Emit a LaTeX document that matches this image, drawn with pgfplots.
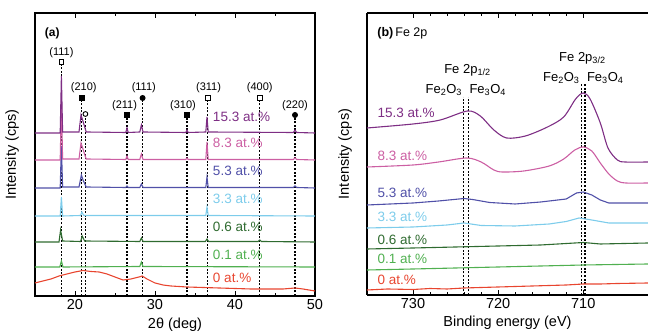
\documentclass[border=0pt]{standalone}
\usepackage{fontspec}
\setmainfont{Liberation Sans}
\usepackage{pgfplots}
\pgfplotsset{compat=1.18}
\definecolor{cA}{HTML}{7E2E84}
\definecolor{cB}{HTML}{CC5FA3}
\definecolor{cC}{HTML}{5050A8}
\definecolor{cD}{HTML}{7DCCEB}
\definecolor{cE}{HTML}{2F6B30}
\definecolor{cF}{HTML}{50B050}
\definecolor{cG}{HTML}{E8452F}
\pgfplotsset{
  common/.style={
    scale only axis, ymin=0, ytick=\empty,
    axis line style={line width=1.1pt},
    tick style={black, line width=0.8pt},
    major tick length=5pt, minor tick length=3pt,
    /pgf/number format/assume math mode=true,
    tick label style={font=\fontsize{14.5}{16}\selectfont},
    every axis plot/.append style={line width=1.1pt},
  },
}
\tikzset{
  vl/.style={black, line width=1.2pt, dash pattern=on 2pt off 1.6pt},
  lab/.style={font=\fontsize{13.5}{15}\selectfont, anchor=west, inner sep=1pt},
  hkl/.style={font=\fontsize{11}{13}\selectfont},
  ann/.style={font=\fontsize{13}{15}\selectfont, inner sep=1pt},
}
\begin{document}
\begin{tikzpicture}[x=1pt,y=1pt]
\path[use as bounding box] (0,0) rectangle (648,336);
\begin{axis}[common, at={(35pt,40pt)}, anchor=south west,
  width=280pt, height=283pt, xmin=15, xmax=50, ymax=283,
  xtick={20,30,40,50}, minor xtick={15,25,35,45},
  xlabel={2θ (deg)}, ylabel={Intensity (cps)},
  ylabel style={at={(axis description cs:-0.082,0.5)}, anchor=center, font=\fontsize{14.5}{16}\selectfont},
  xlabel style={at={(axis description cs:0.5,-0.1)}, anchor=center, font=\fontsize{14.5}{16}\selectfont},
  clip=false]
% vertical reference lines
\addplot[vl] coordinates {(18.3,0) (18.3,232)};
\addplot[vl] coordinates {(20.85,0) (20.85,196)};
\addplot[vl] coordinates {(21.3,0) (21.3,180)};
\addplot[vl] coordinates {(26.5,0) (26.5,179)};
\addplot[vl] coordinates {(28.45,0) (28.45,196)};
\addplot[vl] coordinates {(34.0,0) (34.0,179)};
\addplot[vl] coordinates {(36.6,0) (36.6,196)};
\addplot[vl] coordinates {(43.1,0) (43.1,196)};
\addplot[vl] coordinates {(47.5,0) (47.5,179)};
% markers
\addplot[only marks, mark=square, mark size=2.4pt, mark options={fill=white, line width=0.9pt}] coordinates {(18.3,234) (36.6,198) (43.1,198)};
\addplot[only marks, mark=square*, mark size=2.4pt, mark options={fill=black}] coordinates {(20.85,198) (26.5,181) (34.0,181)};
\addplot[only marks, mark=*, mark size=2.4pt, mark options={fill=black}] coordinates {(28.45,198) (47.5,181)};
\addplot[only marks, mark=o, mark size=2.4pt, mark options={fill=white, line width=0.9pt}] coordinates {(21.3,182)};
% curves
\addplot[cG] coordinates {(15,13)(16,15)(17,17)(18,20)(19,22)(20,24)(21,25.5)(22,24.5)(23,24)(24,22)(25,19)(26,16)(27,17)(28,19)(28.4,20)(29,17)(30,13)(31,11)(32,10)(34,9)(36,8.5)(38,8)(40,7.5)(42,7)(44,7)(46,7)(47.5,8)(48.5,7)(50,5)};
\addplot[cF] coordinates {(15,29)(18.1,29)(18.3,35)(18.5,29)(28.1,29.5)(28.3,34)(28.5,29.5)(50,29)};
\addplot[cE] coordinates {(15,54)(18.0,54)(18.2,66)(18.45,55)(20.7,54.5)(20.9,60)(21.2,55)(28.1,54.5)(28.3,58)(28.5,54.5)(36.3,54.5)(36.5,57)(36.7,54.5)(42.9,54.5)(43.1,56)(43.3,54.5)(50,54)};
\addplot[cD] coordinates {(15,80)(18.15,80)(18.3,99)(18.45,80)(20.7,80.5)(20.85,84)(21.1,80.5)(36.35,80.5)(36.5,89)(36.65,80.5)(50,80)};
\addplot[cC] coordinates {(15,108)(18.15,108)(18.3,150)(18.45,109)(20.5,109)(20.8,121)(21.0,116)(21.4,109)(26.35,108.5)(26.5,110)(26.65,108.5)(28.1,108.5)(28.3,112)(28.5,108.5)(36.35,108.5)(36.5,119)(36.65,108.5)(47.3,108.5)(47.5,110)(47.7,108.5)(50,108)};
\addplot[cB] coordinates {(15,136)(18.15,136)(18.3,195)(18.45,137)(20.5,137)(20.75,153)(20.95,148)(21.4,137)(26.35,136.5)(26.5,140)(26.65,136.5)(28.1,136.5)(28.3,142)(28.5,136.5)(33.85,136.5)(34.0,138)(34.15,136.5)(36.35,136.5)(36.5,154)(36.65,136.5)(47.3,136.5)(47.5,138)(47.7,136.5)(50,136)};
\addplot[cA] coordinates {(15,163)(18.15,163)(18.3,220)(18.45,164)(20.5,164)(20.75,181)(20.95,176)(21.4,164)(26.35,163.5)(26.5,168)(26.65,163.5)(28.1,164)(28.3,171)(28.5,164)(33.85,163.5)(34.0,166)(34.15,163.5)(36.35,164)(36.5,179)(36.65,164)(47.3,163.5)(47.5,166)(47.7,163.5)(50,163)};
% labels
\node[lab, text=cA] at (axis cs:37.1,179) {15.3 at.\%};
\node[lab, text=cB] at (axis cs:37.1,153) {8.3 at.\%};
\node[lab, text=cC] at (axis cs:37.1,125) {5.3 at.\%};
\node[lab, text=cD] at (axis cs:37.1,97) {3.3 at.\%};
\node[lab, text=cE] at (axis cs:37.1,69) {0.6 at.\%};
\node[lab, text=cF] at (axis cs:37.1,41) {0.1 at.\%};
\node[lab, text=cG] at (axis cs:37.1,18) {0 at.\%};
\node[hkl] at (axis cs:18.3,243) {(111)};
\node[hkl] at (axis cs:21.1,208) {(210)};
\node[hkl] at (axis cs:26.2,190) {(211)};
\node[hkl] at (axis cs:28.6,208) {(111)};
\node[hkl] at (axis cs:33.5,190) {(310)};
\node[hkl] at (axis cs:36.7,208) {(311)};
\node[hkl] at (axis cs:43.1,208) {(400)};
\node[hkl] at (axis cs:47.5,190) {(220)};
\node[font=\bfseries\fontsize{12}{14}\selectfont, anchor=west] at (axis cs:15.8,263) {(a)};
\end{axis}

\begin{axis}[common, at={(367pt,41pt)}, anchor=south west,
  width=281pt, height=282pt, xmin=702.4, xmax=735.4, ymax=282,
  x dir=reverse,
  axis x line=box, axis y line=left,
  axis line style={line width=1.1pt, -},
  xtick={710,720,730}, minor tick num=4,
  xlabel={Binding energy (eV)}, ylabel={Intensity (cps)},
  ylabel style={at={(axis description cs:-0.078,0.5)}, anchor=center, font=\fontsize{14.5}{16}\selectfont},
  xlabel style={at={(axis description cs:0.5,-0.1)}, anchor=center, font=\fontsize{14.5}{16}\selectfont},
  clip=false]
\addplot[vl] coordinates {(724.1,0) (724.1,198)};
\addplot[vl] coordinates {(723.5,0) (723.5,198)};
\addplot[vl] coordinates {(710.2,0) (710.2,211)};
\addplot[vl] coordinates {(709.8,0) (709.8,211)};
\addplot[cG] coordinates {(735.4,5)(733,6)(730,5.5)(728,6.5)(726,6)(724,7)(722,7.5)(720,8)(718,8.5)(716,9)(714,9.5)(712,10)(710,11)(708,11)(706,11.5)(702.4,12)};
\addplot[cF] coordinates {(735.4,25)(730,26)(725,27)(720,28)(715,29)(710,30)(702.4,31)};
\addplot[cE] coordinates {(735.4,46)(730,47)(725,48)(720,49)(715,50)(711,52)(710,52.5)(708,51)(702.4,52)};
\addplot[cD] coordinates {(735.4,67)(730,68)(726,70)(724,72)(722,69.5)(718,69)(714,71)(712,73.5)(710.5,77)(709,75)(707,72)(702.4,72)};
\addplot[cC] coordinates {(735.4,90)(730,92)(727,94)(724,96.5)(723,95.5)(721,92.5)(718,91)(715,93)(712,96)(710.8,102)(710,103)(709,100)(708,95)(707,92)(702.4,92)};
\addplot[cB, smooth] coordinates {(735.4,128)(730,130)(727,133)(723.7,137)(722,133)(720.5,125)(719.5,123)(717,124)(714,129)(712.3,136)(711,145)(710,148)(709,144)(708,132)(707,121)(706,114)(705,112)(702.4,112)};
\addplot[cA, smooth] coordinates {(735.4,167)(730,171)(726.8,175)(723.6,184)(722.1,179)(720.5,165)(719,157)(716.8,159)(714.2,168)(712.3,178)(710.9,196)(710,202)(709.2,196)(708,172)(707.1,147)(706,135)(705.1,133)(702.4,133)};
\node[lab, text=cA] at (axis cs:734.3,182) {15.3 at.\%};
\node[lab, text=cB] at (axis cs:734.3,139) {8.3 at.\%};
\node[lab, text=cC] at (axis cs:734.3,102) {5.3 at.\%};
\node[lab, text=cD] at (axis cs:734.3,78) {3.3 at.\%};
\node[lab, text=cE] at (axis cs:734.3,55) {0.6 at.\%};
\node[lab, text=cF] at (axis cs:734.3,36) {0.1 at.\%};
\node[lab, text=cG] at (axis cs:734.3,15) {0 at.\%};
\node[ann] at (axis cs:723.6,225) {Fe 2p\textsubscript{1/2}};
\node[ann, anchor=east] at (axis cs:724.1,205) {Fe\textsubscript{2}O\textsubscript{3}};
\node[ann, anchor=west] at (axis cs:723.5,205) {Fe\textsubscript{3}O\textsubscript{4}};
\node[ann] at (axis cs:710.1,237) {Fe 2p\textsubscript{3/2}};
\node[ann, anchor=east] at (axis cs:710.3,217) {Fe\textsubscript{2}O\textsubscript{3}};
\node[ann, anchor=west] at (axis cs:709.7,217) {Fe\textsubscript{3}O\textsubscript{4}};
\node[font=\fontsize{12.5}{14}\selectfont, anchor=west] at (axis cs:734.6,262) {\textbf{(b)}\,Fe 2p};
\end{axis}
\end{tikzpicture}
\end{document}
